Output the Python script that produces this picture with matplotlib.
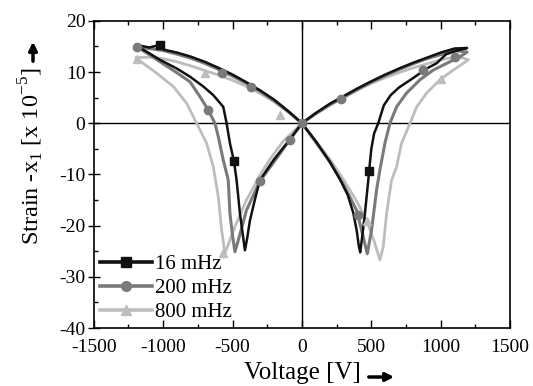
import numpy as np
import matplotlib
matplotlib.use('Agg')
import matplotlib.pyplot as plt
from matplotlib.lines import Line2D
from matplotlib.ticker import MultipleLocator

plt.rcParams['font.family'] = ['Liberation Serif', 'DejaVu Serif']
plt.rcParams['mathtext.fontset'] = 'custom'
plt.rcParams['mathtext.rm'] = 'Liberation Serif'
plt.rcParams['axes.unicode_minus'] = False

# 16 mHz loop (V, strain)
v_16 = [-1195, -1100, -1024, -1000, -900, -800, -700, -600, -500, -400, -300, -200, -100, 0,
        100, 200, 275, 330, 370, 395, 410, 420,
        435, 454, 478, 487, 500, 520, 550, 590, 640, 700, 800, 900, 970, 1040, 1120, 1190,
        1100, 1000, 900, 800, 700, 600, 500, 400, 300, 200, 100, 0,
        -100, -200, -303, -340, -375, -395, -411,
        -430, -447, -471, -490, -519, -543, -567, -639, -712, -807, -903, -1024, -1120, -1195]
s_16 = [15.3, 14.8, 15.3, 14.4, 13.8, 13.0, 12.0, 10.8, 9.5, 8.0, 6.4, 4.6, 2.4, 0,
        -3.5, -7.5, -11, -14, -17.5, -21, -24, -25.2,
        -22, -17.6, -11.1, -8.5, -5, -2, 0, 3.5, 5.5, 7, 8.8, 10.7, 11.7, 13.5, 14.2, 14.7,
        14.6, 13.8, 12.8, 11.8, 10.7, 9.5, 8.2, 6.8, 5.3, 3.8, 2.0, 0,
        -3.6, -7.0, -11.1, -15, -19, -22.5, -24.8,
        -21, -17.6, -11.1, -7.4, -3.9, 0, 3.2, 5.5, 7.2, 9.1, 10.7, 12.4, 14, 15.1]

# 200 mHz loop
v_200 = [-1195, -1100, -1000, -900, -800, -700, -600, -500, -400, -300, -200, -100, 0,
         100, 200, 300, 394, 440, 471,
         502, 538, 562, 598, 634, 682, 754, 851, 947, 1043, 1139, 1190,
         1100, 1000, 900, 800, 700, 600, 500, 400, 300, 200, 100, 0,
         -100, -200, -303, -400, -450, -483,
         -500, -519, -531, -567, -603, -627, -675, -735, -807, -903, -1000, -1100, -1195]
s_200 = [15.0, 14.6, 14.2, 13.5, 12.7, 11.7, 10.5, 9.2, 7.8, 6.2, 4.4, 2.3, 0,
         -3.7, -7.5, -12, -17, -22, -25.5,
         -20.8, -13, -9.1, -3.9, 0, 3.2, 5.9, 8.5, 10.4, 11.7, 13, 13.9,
         14.2, 13.4, 12.6, 11.6, 10.5, 9.3, 8.0, 6.6, 5.1, 3.6, 1.9, 0,
         -3.7, -7.5, -11.3, -17, -22, -25.1,
         -22, -17.6, -11.1, -7.2, -2.6, 0, 2.6, 5.2, 8.1, 9.9, 11.6, 13.4, 15.0]

# 800 mHz loop
v_800 = [-1195, -1100, -1000, -900, -800, -700, -600, -500, -400, -300, -200, -100, 0,
         100, 200, 300, 400, 466, 520, 562,
         586, 610, 646, 682, 718, 779, 827, 899, 995, 1091, 1163, 1199,
         1150, 1100, 1000, 900, 800, 700, 600, 500, 400, 300, 200, 100, 0,
         -135, -230, -300, -400, -480, -555,
         -579, -603, -639, -687, -759, -831, -928, -1048, -1144, -1192]
s_800 = [12.8, 12.9, 12.6, 12.0, 11.2, 10.3, 9.4, 8.4, 7.2, 5.8, 4.2, 2.2, 0,
         -3.5, -7, -11, -15.5, -19, -23, -26.7,
         -24.1, -17.6, -11.1, -8.5, -3.9, 0, 3.2, 5.9, 8.5, 10.4, 11.7, 12.4,
         12.8, 12.9, 12.4, 11.6, 10.8, 9.9, 8.9, 7.8, 6.5, 5.0, 3.5, 1.8, 0,
         -3.5, -7, -10, -15, -20, -25.4,
         -20.8, -14.3, -8.5, -3.9, 0, 3.9, 7.2, 9.8, 11.7, 12.7]

# marker positions
mv_16 = [-490, 485, -1024]
ms_16 = [-7.4, -9.3, 15.3]
mv_200 = [-1190, -675, -577, -368, -303, -86, 0, 404, 281, 873, 1100]
ms_200 = [14.8, 2.6, 9.8, 7.0, -11.3, -3.3, 0, -18, 4.7, 10.4, 13.0]
mv_800 = [-1190, -566, -700, -159, 466, 1000]
ms_800 = [12.5, -25.4, 9.9, 1.6, -19, 8.6]

labels = ['16 mHz', '200 mHz', '800 mHz']
colors = ['#111111', '#7a7a7a', '#bdbdbd']
markers = ['s', 'o', '^']
widths = [1.8, 2.2, 2.0]

fig = plt.figure(figsize=(5.33, 3.86), dpi=100)
ax = fig.add_axes([0.176, 0.150, 0.781, 0.796])

ax.axhline(0, color='black', lw=1.0, zorder=1)
ax.axvline(0, color='black', lw=1.0, zorder=1)

series = [(v_16, s_16, mv_16, ms_16), (v_200, s_200, mv_200, ms_200), (v_800, s_800, mv_800, ms_800)]
handles = []
for i in [2, 1, 0]:
    v, s, mv, ms = series[i]
    ax.plot(v, s, color=colors[i], lw=widths[i], zorder=3)
    ax.plot(mv, ms, ls='none', marker=markers[i], color=colors[i], ms=6, zorder=4)
for i in range(3):
    handles.append(Line2D([], [], color=colors[i], lw=2.6, marker=markers[i], ms=7))

ax.set_xlim(-1500, 1500)
ax.set_ylim(-40, 20)
ax.set_xticks([-1500, -1000, -500, 0, 500, 1000, 1500])
ax.set_yticks([-40, -30, -20, -10, 0, 10, 20])
ax.xaxis.set_minor_locator(MultipleLocator(250))
ax.yaxis.set_minor_locator(MultipleLocator(5))

ax.tick_params(axis='x', which='both', direction='in', top=True, bottom=True, labelsize=14, pad=8)
ax.tick_params(axis='x', which='major', length=6, width=1)
ax.tick_params(axis='x', which='minor', length=3, width=1)
ax.tick_params(axis='y', which='major', direction='inout', length=8, width=1, labelsize=14, right=False, pad=2)
ax.tick_params(axis='y', which='minor', direction='in', length=3, width=1, right=False)
for sp in ax.spines.values():
    sp.set_linewidth(1.2)

ax.set_xlabel('Voltage [V]', fontsize=18)
ax.xaxis.set_label_coords(0.502, -0.11)
ax.set_ylabel(r'Strain -x$_\mathregular{1}$ [x 10$^\mathregular{-5}$]', fontsize=17.5)
ax.yaxis.set_label_coords(-0.115, 0.56)

ax.annotate('', xy=(397, 9), xytext=(366, 9), xycoords='figure pixels', textcoords='figure pixels',
            arrowprops=dict(arrowstyle='-|>', lw=2.5, color='black', mutation_scale=12))
ax.annotate('', xy=(33, 347), xytext=(33, 322), xycoords='figure pixels', textcoords='figure pixels',
            arrowprops=dict(arrowstyle='-|>', lw=2.5, color='black', mutation_scale=12))

ax.legend(handles, labels, loc='lower left', frameon=False, fontsize=15, handlelength=2.5,
          handletextpad=0.15, labelspacing=0.2, borderaxespad=0.1, borderpad=0.2, numpoints=1)

fig.savefig('out.png', dpi=100)
